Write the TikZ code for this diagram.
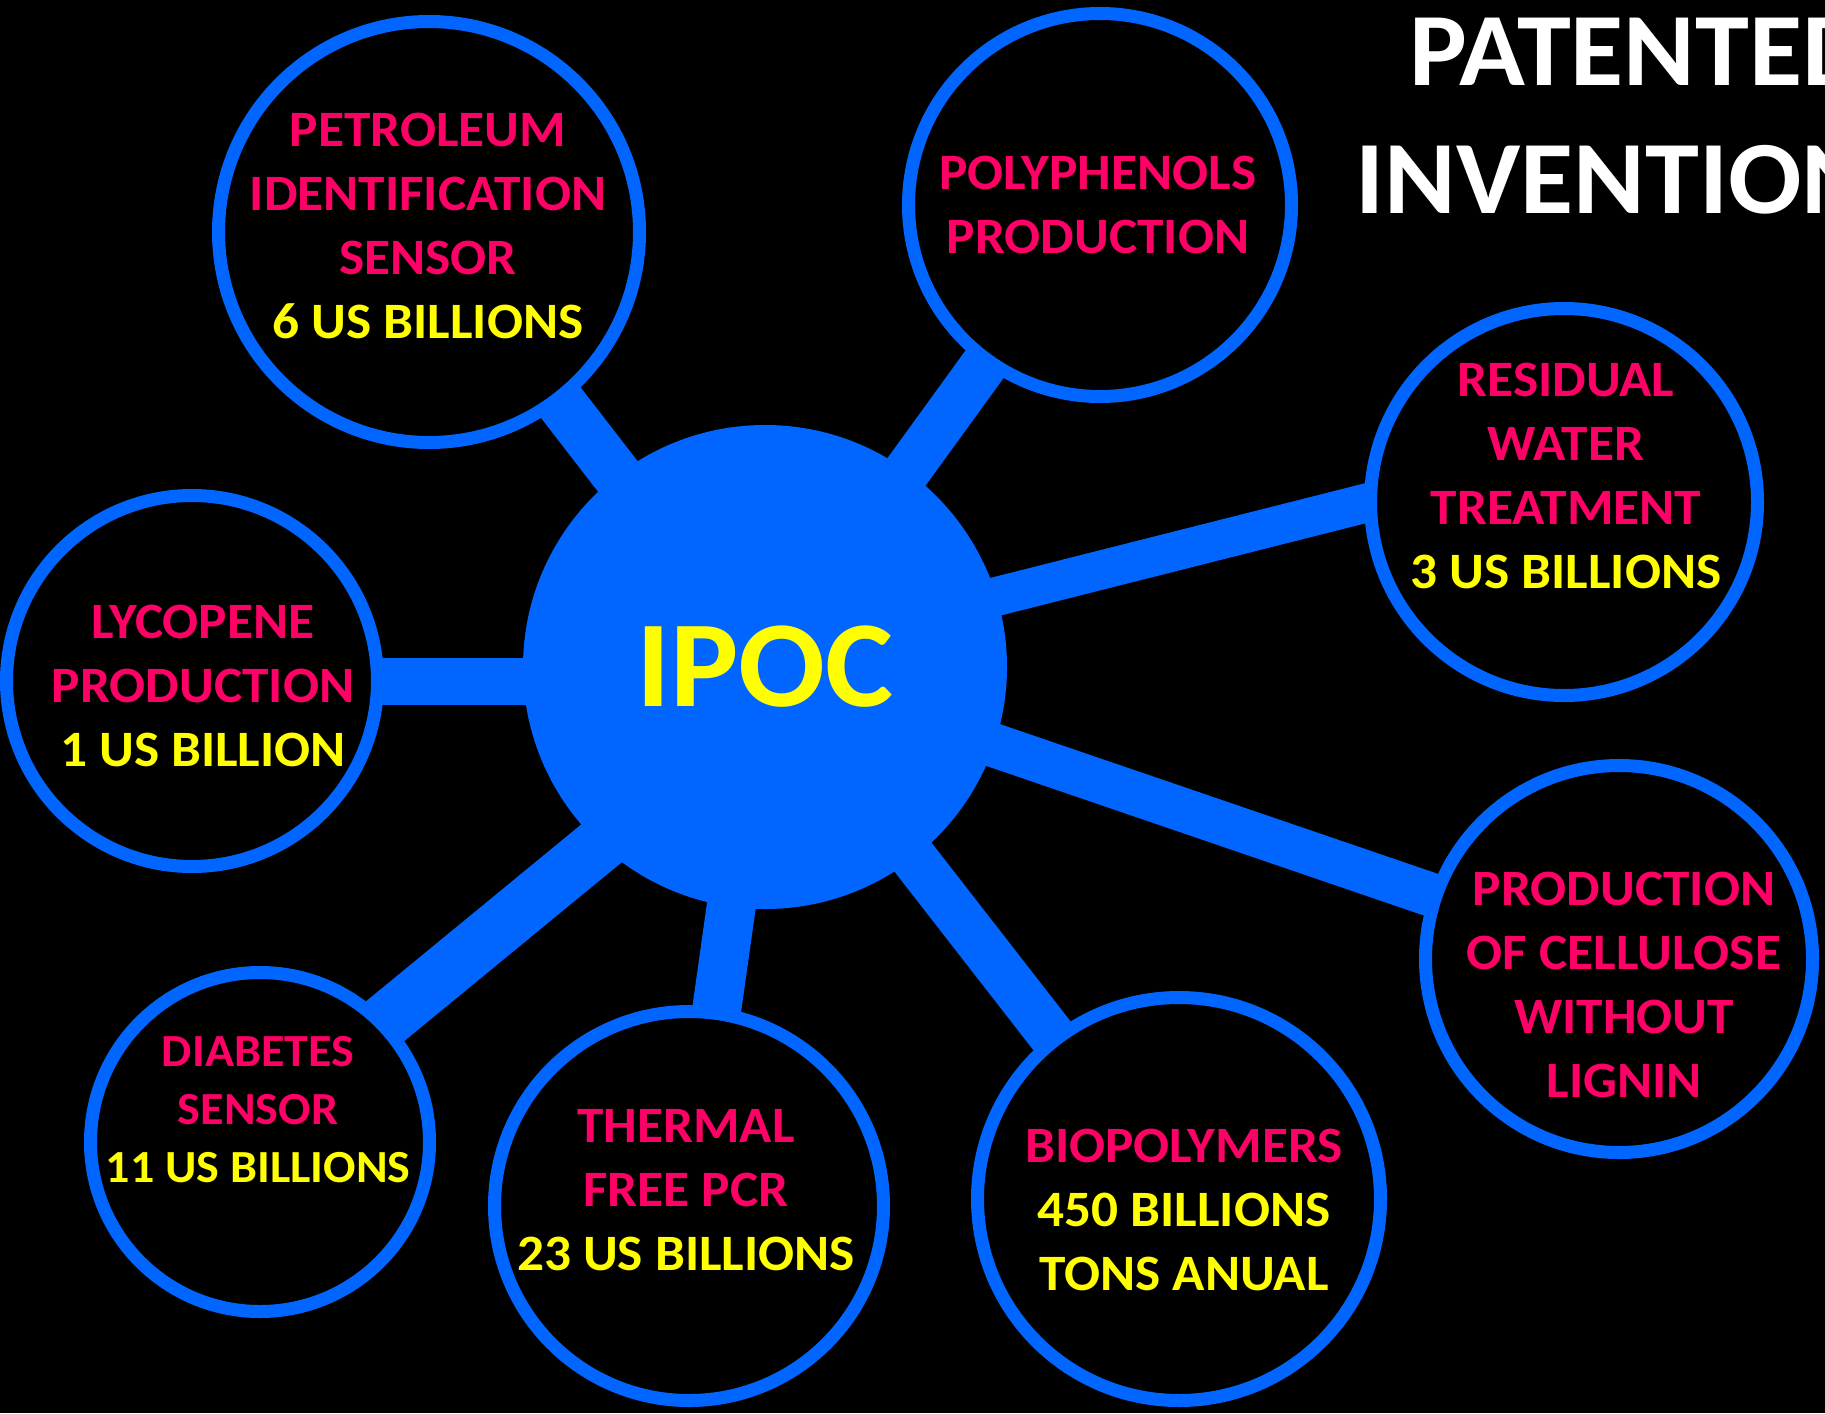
\documentclass[tikz,border=0pt]{standalone}
\usepackage{fontspec}
\setmainfont{Carlito}[FakeStretch=1.045]
\definecolor{ipocblue}{RGB}{0,102,255}
\definecolor{ipocpink}{RGB}{255,0,102}
\definecolor{ipocyellow}{RGB}{255,255,0}
\pgfdeclarelayer{bg}
\pgfdeclarelayer{spokes}
\pgfsetlayers{bg,spokes,main}
\newcommand{\money}[1]{\textcolor{ipocyellow}{#1}}
\begin{document}
\begin{tikzpicture}[x=1pt,y=-1pt,
		ring/.style={circle,draw=ipocblue,line width=13pt,fill=black,inner sep=0pt,minimum size=#1},
		spoke/.style={draw=ipocblue,line width=#1},
		lbl/.style={align=center,text=ipocpink,font=\fontsize{51}{64}\selectfont\bfseries}]
	\useasboundingbox (0,0) rectangle (1825,1413);
	\begin{pgfonlayer}{bg}
		\fill[black] (0,0) rectangle (1825,1413);
	\end{pgfonlayer}
	\clip (0,0) rectangle (1825,1413);
	% hub
	\node[circle,fill=ipocblue,inner sep=0pt,minimum size=484pt,text=ipocyellow,font=\fontsize{123}{140}\selectfont\bfseries] (ipoc) at (765,667) {IPOC};
	% outer circles
	\node[ring=421pt] (petro) at (429,232) {};
	\node[ring=383pt] (poly) at (1100,205) {};
	\node[ring=387pt] (resid) at (1564,502) {};
	\node[ring=371pt] (lyco) at (192,681) {};
	\node[ring=387pt] (cellu) at (1619,959) {};
	\node[ring=339pt] (diab) at (260,1142) {};
	\node[ring=389pt] (therm) at (689,1206) {};
	\node[ring=403pt] (biopol) at (1179,1199) {};
	\begin{pgfonlayer}{spokes}
		\draw[spoke=50pt] (petro.center)--(ipoc.center);
		\draw[spoke=47pt] (poly.center)--(ipoc.center);
		\draw[spoke=39pt] ([yshift=49pt]resid.center)--([yshift=12pt]ipoc.center);
		\draw[spoke=47pt] (lyco.center)--(lyco.center -| ipoc.center);
		\draw[spoke=44pt] (cellu.center)--(ipoc.center);
		\draw[spoke=55pt] ([yshift=18pt]diab.center)--([yshift=-42pt]ipoc.center);
		\draw[spoke=49pt] (therm.center)--(ipoc.center);
		\draw[spoke=47pt] (biopol.center)--(ipoc.center);
	\end{pgfonlayer}
	% texts
	\node[lbl] (petro-t) at (428,226) {PETROLEUM\\IDENTIFICATION\\SENSOR\\\money{6 US BILLIONS}};
	\node[lbl] (poly-t) at (1098,205) {POLYPHENOLS\\PRODUCTION};
	\node[lbl] (resid-t) at (1566,476) {RESIDUAL\\WATER\\TREATMENT\\\money{3 US BILLIONS}};
	\node[lbl] (lyco-t) at (203,686) {LYCOPENE\\PRODUCTION\\\money{1 US BILLION}};
	\node[lbl] (cellu-t) at (1624,985) {PRODUCTION\\OF CELLULOSE\\WITHOUT\\LIGNIN};
	\node[lbl,font=\fontsize{46}{58}\selectfont\bfseries] (diab-t) at (258,1110) {DIABETES\\SENSOR\\\money{11 US BILLIONS}};
	\node[lbl] (therm-t) at (686,1190) {THERMAL\\FREE PCR\\\money{23 US BILLIONS}};
	\node[lbl] (biopol-t) at (1184,1210) {BIOPOLYMERS\\\money{450 BILLIONS}\\\money{TONS ANUAL}};
	\node[align=center,text=white,font=\fontsize{104}{128}\selectfont\bfseries] (title) at (1640,116) {PATENTED\\INVENTIONS};
\end{tikzpicture}
\end{document}
